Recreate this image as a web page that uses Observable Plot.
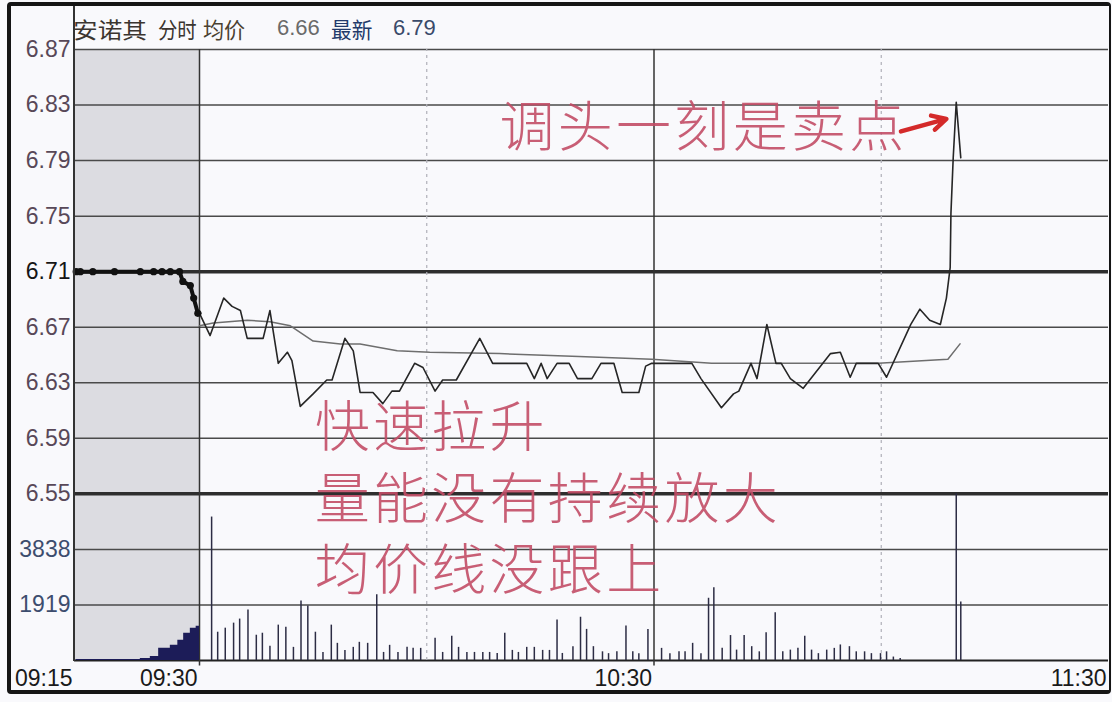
<!DOCTYPE html>
<html><head><meta charset="utf-8">
<script src="https://cdn.jsdelivr.net/npm/d3@7"></script>
<script src="https://cdn.jsdelivr.net/npm/@observablehq/plot@0.6"></script>
<style>
body{margin:0;background:#fff;}
#wrap{position:relative;width:1112px;height:702px;overflow:hidden;background:#f9f9fc;}
#chart{position:absolute;left:0;top:0;}
.hd{position:absolute;top:14px;line-height:28px;white-space:nowrap;transform-origin:left center;}
.cjk{font-family:"Noto Sans CJK SC",sans-serif;font-size:22px;}
.num{font-family:"Liberation Sans",Arial,sans-serif;font-size:22px;}
#border{position:absolute;left:7px;top:2px;width:1104px;height:692px;box-sizing:border-box;border-style:solid;border-color:#151515;border-width:4px 2px 4px 4px;border-radius:4px;pointer-events:none;}
#vaxis{position:absolute;left:73px;top:4px;width:2px;height:657px;background:#333;}
</style></head>
<body>
<div id="wrap">
  <div id="chart"></div>
  <div id="vaxis"></div>
  <div id="border"></div>
  <span class="hd cjk" style="left:73px;color:#3b3530;transform:scaleX(1.12)">安诺其</span>
  <span class="hd cjk" style="left:158px;color:#3b3530;transform:scaleX(0.88)">分时</span>
  <span class="hd cjk" style="left:203px;color:#4a4030;transform:scaleX(0.96)">均价</span>
  <span class="hd num" style="left:277px;color:#6a6a6a">6.66</span>
  <span class="hd cjk" style="left:331px;color:#223a6a;transform:scaleX(0.94)">最新</span>
  <span class="hd num" style="left:393px;color:#3a4a6a">6.79</span>
</div>
<script>
// ---- data (minutes relative to 09:30; negative = call auction 09:15-09:30) ----
const priceMin = [0,1.4,3.2,4.3,5.4,6.3,8.4,9.3,10.4,11.6,12.2,13.3,15.0,16.8,17.5,19.2,20.3,21.2,22.9,24.2,25.4,26.4,28.4,29.5,31.1,32.1,33.9,37.0,38.7,43.2,44.2,45.1,45.9,47.2,48.8,49.9,51.8,53.0,54.7,55.8,58.0,58.9,59.7,65.0,66.2,68.9,70.5,71.2,72.8,73.6,74.9,76.1,76.8,78.0,79.7,83.3,84.6,85.9,86.7,89.6,90.7,93.9,95.1,96.4,97.8,98.6,99.1,99.2,99.5,99.9,100.5];
const priceVal = [6.680,6.664,6.691,6.685,6.682,6.662,6.662,6.682,6.644,6.652,6.646,6.613,6.622,6.632,6.632,6.662,6.653,6.623,6.623,6.615,6.624,6.624,6.644,6.641,6.624,6.632,6.632,6.662,6.644,6.644,6.633,6.644,6.633,6.644,6.644,6.633,6.633,6.644,6.644,6.623,6.623,6.642,6.644,6.644,6.633,6.612,6.622,6.624,6.644,6.633,6.672,6.644,6.644,6.633,6.626,6.651,6.652,6.634,6.644,6.644,6.634,6.672,6.683,6.675,6.672,6.691,6.713,6.752,6.792,6.832,6.792];

const avgMin = [0,1.8,6.3,9.3,12.0,15.0,18.6,21.2,26.1,30.4,39.6,50.1,59.7,67.6,79.1,89.6,98.8,100.4];
const avgVal = [6.671,6.673,6.675,6.674,6.671,6.660,6.658,6.658,6.653,6.652,6.651,6.649,6.647,6.644,6.644,6.644,6.647,6.658];

const auctionMin = [-14.8,-14.3,-12.8,-10.2,-7.1,-5.5,-4.5,-3.5,-2.4,-2.0,-1.1,-0.7,-0.2,0];
const auctionVal = [6.71,6.71,6.71,6.71,6.71,6.71,6.71,6.71,6.71,6.703,6.700,6.691,6.680,6.680];

const preVolMin = [-14.8,-7.1,-5.9,-4.9,-3.5,-2.6,-1.9,-1.1,-0.4,0];
const preVolVal = [35,70,140,419,524,698,942,1117,1187,1222];

const volMin = [1.6,2.4,3.4,4.5,5.3,6.4,7.5,8.3,9.3,10.4,11.4,12.4,13.4,14.3,15.3,16.3,17.4,18.2,19.2,20.3,21.1,22.2,23.4,24.3,25.1,26.2,27.4,28.2,29.2,31.1,32.1,33.3,34.2,35.3,36.3,37.4,38.3,39.3,40.3,41.3,42.1,43.2,44.2,45.3,46.2,47.2,47.9,49.3,50.3,51.1,52.0,53.2,54.0,55.1,56.3,57.2,58.0,59.2,61.0,62.1,63.3,64.1,65.1,66.2,67.2,67.9,69.0,70.1,70.9,71.9,72.9,73.9,74.8,76.0,77.0,78.0,79.0,79.9,80.8,81.7,82.8,83.8,84.6,85.8,86.7,87.8,88.7,89.9,90.7,91.6,92.5,99.9,100.5];
const volVal = [4956,977,1117,1291,1431,1745,873,942,489,1222,1152,454,2059,1885,977,279,1222,593,349,454,628,593,2269,279,524,279,454,419,419,768,279,838,454,279,279,279,279,244,942,349,279,454,454,349,349,1396,244,478,1494,1075,478,300,237,300,1194,300,237,1075,419,237,300,300,593,237,2150,2513,419,862,359,862,478,300,956,1651,300,359,419,838,359,237,359,419,537,478,300,300,237,237,300,119,70,5757,2024];

const priceTicks = [6.87,6.83,6.79,6.75,6.71,6.67,6.63,6.59,6.55];
const boldTicks = [6.71,6.55];
const volTicks = [1919,3838];
const timeTicks = [-15,0,60,120];
const timeLabels = ["09:15","09:30","10:30","11:30"];
const dashedTimes = [30,90];
const solidTimes = [0,60];

const notes = ["快速拉升","量能没有持续放大","均价线没跟上"];
const noteLevels = [6.597,6.545,6.494];
const headline = "调头一刻是卖点";

// ---- helpers: volume pane shares the y scale below 6.55 ----
const VOL_BASE = 6.43, VOL_STEP = 0.04, VOL_UNIT = 1919;
const vy = v => VOL_BASE + v / VOL_UNIT * VOL_STEP;

const price = priceMin.map((m,i)=>({m, p: priceVal[i]}));
const avg = avgMin.map((m,i)=>({m, p: avgVal[i]}));
const auction = auctionMin.map((m,i)=>({m, p: auctionVal[i]}));
const preVol = preVolMin.map((m,i)=>({m, v: preVolVal[i]}));
const vol = volMin.map((m,i)=>({m, v: volVal[i]}));
const yLabels = priceTicks.map(t=>({y:t, label:t.toFixed(2)}));
const vLabels = volTicks.map(v=>({y: vy(v), label: String(v)}));
const gridAll = [...priceTicks.filter(t=>!boldTicks.includes(t)), ...volTicks.map(vy)];
const xLabels = timeTicks.map((t,i)=>({m:t, label: timeLabels[i]}));
const noteData = notes.map((t,i)=>({m:15.2, y: noteLevels[i], t}));

const noteStyle = {textAnchor: "start", lineAnchor: "middle", fontSize: 55, fontWeight: 300, fontFamily: "Noto Sans CJK SC", fill: "#c24d66", fillOpacity: 0.9};

const chart = Plot.plot({
  width: 1112, height: 702,
  marginLeft: 74, marginRight: 4, marginTop: 49, marginBottom: 42,
  style: {background: "transparent", overflow: "visible"},
  x: {type: "linear", domain: [-15, 0, 120], range: [74, 199, 1108], axis: null},
  y: {domain: [VOL_BASE, 6.87], axis: null},
  marks: [
    Plot.rect([{a:-15,b:0}], {x1:"a", x2:"b", y1: VOL_BASE, y2: 6.87, fill: "#dcdce1"}),
    Plot.ruleY(gridAll, {stroke: "#4a4a4a", strokeWidth: 1.5}),
    Plot.ruleY(boldTicks, {stroke: "#2e2e2e", strokeWidth: 3.5}),
    Plot.ruleY([VOL_BASE], {stroke: "#222", strokeWidth: 2}),
    Plot.ruleX(dashedTimes, {y1: VOL_BASE, y2: 6.87, stroke: "#b0b0b8", strokeWidth: 1.2, strokeDasharray: "3,4"}),
    Plot.ruleX(solidTimes, {y1: VOL_BASE - 0.004, y2: 6.87, stroke: "#333", strokeWidth: 1.5}),
    Plot.areaY(preVol, {x: "m", y1: VOL_BASE, y2: d => vy(d.v), fill: "#1c1c58", curve: "step-after"}),
    Plot.ruleX(vol, {x: "m", y1: VOL_BASE, y2: d => Math.min(vy(d.v), 6.55), stroke: "#2c2c44", strokeWidth: 1.5}),
    Plot.line(avg, {x: "m", y: "p", stroke: "#6e6e6e", strokeWidth: 1.5}),
    Plot.line(price, {x: "m", y: "p", stroke: "#262626", strokeWidth: 1.6}),
    Plot.line(auction, {x: "m", y: "p", stroke: "#111", strokeWidth: 4}),
    Plot.dot(auction.slice(0, -1), {x: "m", y: "p", r: 3.6, fill: "#111"}),
    Plot.text(noteData, {x: "m", y: "y", text: "t", ...noteStyle}),
    Plot.text([{m: 39.6, y: 6.813}], {x: "m", y: "y", text: () => headline, ...noteStyle}),
    Plot.arrow([{x1: 92.6, y1: 6.811, x2: 98.6, y2: 6.820}], {x1: "x1", y1: "y1", x2: "x2", y2: "y2", stroke: "#d42a2a", strokeWidth: 4.5, headLength: 16, headAngle: 55}),
    Plot.text(yLabels.filter(d => d.y !== 6.71), {x: -15, y: "y", text: "label", dx: -4, textAnchor: "end", fontSize: 23, fontFamily: "Liberation Sans", fill: "#584858"}),
    Plot.text(yLabels.filter(d => d.y === 6.71), {x: -15, y: "y", text: "label", dx: -4, textAnchor: "end", fontSize: 23, fontFamily: "Liberation Sans", fill: "#151515"}),
    Plot.text(vLabels, {x: -15, y: "y", text: "label", dx: -4, textAnchor: "end", fontSize: 23, fontFamily: "Liberation Sans", fill: "#3d4d6e"}),
    Plot.text(xLabels, {x: "m", y: VOL_BASE, text: "label", dx: -2, dy: 18, textAnchor: "end", fontSize: 23, fontFamily: "Liberation Sans", fill: "#1a1a1a"})
  ]
});
// widen the hand-written style annotations slightly (character pitch ~58px in the reference)
const annTexts = new Set([...notes, headline]);
d3.select(chart).selectAll("text").filter(function(){ return annTexts.has(this.textContent); }).attr("letter-spacing", "3.3px");
document.getElementById("chart").appendChild(chart);
</script>
</body></html>
